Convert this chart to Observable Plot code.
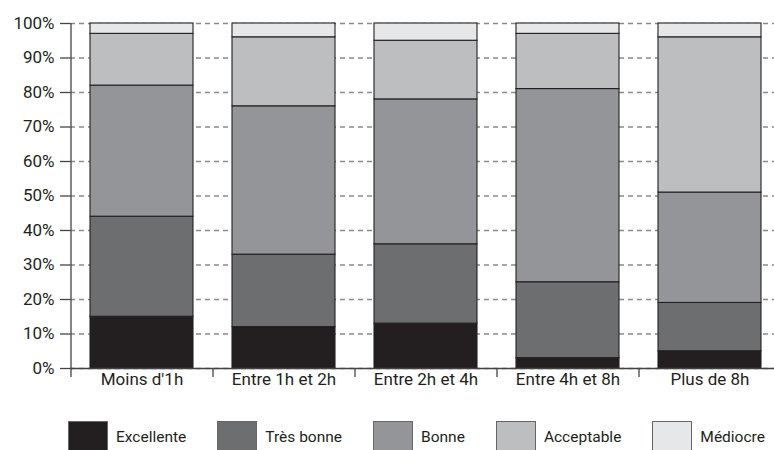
<!DOCTYPE html>
<html><head><meta charset="utf-8">
<script src="https://cdn.jsdelivr.net/npm/d3@7"></script>
<script src="https://cdn.jsdelivr.net/npm/@observablehq/plot@0.6"></script>
<style>
body{margin:0;background:#fff;font-family:Roboto,"Liberation Sans",sans-serif;color:#231f20;overflow:hidden;}
#legend{display:flex;align-items:center;padding-left:68px;margin-top:16px;font-size:15.5px;white-space:nowrap;}
#legend .item{display:flex;align-items:center;margin-right:31px;flex:none;}
#legend .sw{width:38px;height:30px;border:1px solid #666;margin-right:8px;}
</style></head><body><div id="chart"></div><div id="legend"></div><script>
const categories = ["Moins d'1h","Entre 1h et 2h","Entre 2h et 4h","Entre 4h et 8h","Plus de 8h"];
const levels = ["Excellente","Très bonne","Bonne","Acceptable","Médiocre"];
const excellente = [15,12,13,3,5];
const tresBonne = [29,21,23,22,14];
const bonne = [38,43,42,56,32];
const acceptable = [15,20,17,16,45];
const mediocre = [3,4,5,3,4];
const colors = ["#231f20","#6d6e70","#939598","#bcbec0","#e6e7e8"];
const yTicks = [0,10,20,30,40,50,60,70,80,90,100];

const series = [excellente, tresBonne, bonne, acceptable, mediocre];
const table = [];
levels.forEach((lv, i) => categories.forEach((c, j) => table.push({cat: c, level: lv, value: series[i][j]})));

const chart = Plot.plot({
  width: 774, height: 405,
  marginLeft: 70, marginRight: -6, marginTop: 23, marginBottom: 37,
  style: {fontFamily: 'Roboto,"Liberation Sans",sans-serif', color: "#231f20", overflow: "visible"},
  x: {domain: categories, paddingInner: 0.275, paddingOuter: 0.1375, label: null},
  y: {domain: [0, 100], label: null},
  color: {domain: levels, range: colors},
  marks: [
    Plot.gridY(yTicks, {stroke: "#8a8a8a", strokeOpacity: 1, strokeDasharray: "5,4", strokeWidth: 1.3}),
    Plot.barY(table, {x: "cat", y: "value", fill: "level", stroke: "#231f20", strokeWidth: 1.1}),
    Plot.ruleY([0], {stroke: "#444", strokeWidth: 1.3}),
    Plot.ruleX([categories[0]], {dx: -71, y1: 0, y2: 100, stroke: "#444", strokeWidth: 1.3}),
    Plot.axisY({ticks: yTicks, tickSize: 10, tickPadding: 6, tickFormat: d => d + "%", fontSize: 17, stroke: "#444", strokeWidth: 1.3}),
    Plot.axisX({tickSize: 9, dx: -71, tickFormat: () => "", stroke: "#444", strokeWidth: 1.3}),
    Plot.axisX({tickSize: 0, tickPadding: 4, fontSize: 17})
  ]
});
document.getElementById("chart").appendChild(chart);

const legend = document.getElementById("legend");
levels.forEach((lv, i) => {
  const it = document.createElement("div"); it.className = "item";
  const sw = document.createElement("div"); sw.className = "sw"; sw.style.background = colors[i];
  const tx = document.createElement("span"); tx.textContent = lv;
  it.appendChild(sw); it.appendChild(tx); legend.appendChild(it);
});
</script></body></html>
